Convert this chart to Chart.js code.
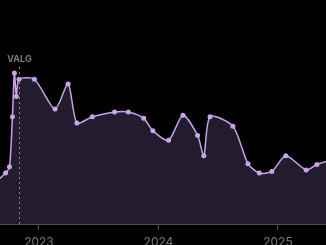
<!DOCTYPE html>
<html>
<head>
<meta charset="utf-8">
<script src="https://cdn.jsdelivr.net/npm/chart.js@4.4.1/dist/chart.umd.min.js"></script>
<style>
  html, body { margin: 0; padding: 0; background: #000; overflow: hidden; }
  #wrap { width: 326px; height: 256px; }
</style>
</head>
<body>
<div id="wrap"><canvas id="chart" width="326" height="256"></canvas></div>
<script>
// Poll dates and share (%)
const pollDates = [
  "2022-08-05", "2022-09-21", "2022-10-03", "2022-10-12", "2022-10-18",
  "2022-10-24", "2022-11-01", "2022-12-18", "2023-02-19", "2023-03-31",
  "2023-04-27", "2023-06-13", "2023-08-20", "2023-10-01", "2023-11-17",
  "2023-12-15", "2024-02-01", "2024-03-16", "2024-04-30", "2024-05-19",
  "2024-06-07", "2024-08-16", "2024-10-01", "2024-11-05", "2024-12-13",
  "2025-01-25", "2025-03-28", "2025-04-30", "2025-06-23"
];
const pollValues = [
  2.4, 3.3, 3.7, 6.9, 9.7,
  8.2, 9.3, 9.3, 7.4, 9.0,
  6.5, 6.9, 7.2, 7.2, 6.8,
  6.0, 5.4, 7.0, 5.7, 4.4,
  6.9, 6.3, 3.9, 3.3, 3.4,
  4.4, 3.5, 3.85, 4.2
];
const yearTicks = [2023, 2024, 2025];
const electionDate = "2022-11-01";
const electionLabel = "VALG";

// date string -> decimal year
function toYear(iso) {
  const [y, m, d] = iso.split("-").map(Number);
  const start = Date.UTC(y, 0, 1);
  const end = Date.UTC(y + 1, 0, 1);
  return y + (Date.UTC(y, m - 1, d) - start) / (end - start);
}

const points = pollDates.map((d, i) => ({ x: toYear(d), y: pollValues[i] }));

// dashed election marker with label
const electionLine = {
  id: "electionLine",
  afterDatasetsDraw(chart) {
    const { ctx, chartArea, scales } = chart;
    const x = Math.round(scales.x.getPixelForValue(toYear(electionDate))) + 0.5;
    ctx.save();
    ctx.strokeStyle = "#8a8a8a";
    ctx.lineWidth = 1;
    ctx.setLineDash([2, 3]);
    ctx.beginPath();
    ctx.moveTo(x, 67);
    ctx.lineTo(x, chartArea.bottom);
    ctx.stroke();
    ctx.fillStyle = "#7c7c7c";
    ctx.font = "bold 9px Inter";
    ctx.textAlign = "center";
    ctx.textBaseline = "middle";
    ctx.fillText(electionLabel, x, 59);
    ctx.restore();
  }
};

new Chart(document.getElementById("chart"), {
  type: "line",
  data: {
    datasets: [{
      data: points,
      borderColor: "#c9a4e8",
      borderWidth: 1.5,
      pointRadius: 2.5,
      pointBackgroundColor: "#c9a4e8",
      pointBorderWidth: 0,
      tension: 0.25,
      fill: "start",
      backgroundColor: "#231c2e"
    }]
  },
  options: {
    responsive: false,
    devicePixelRatio: 1,
    animation: false,
    layout: { padding: 0, autoPadding: false },
    plugins: { legend: { display: false }, tooltip: { enabled: false } },
    scales: {
      x: {
        type: "linear",
        min: 2022.674,
        max: 2025.402,
        afterBuildTicks: scale => { scale.ticks = yearTicks.map(v => ({ value: v })); },
        grid: { drawOnChartArea: false, tickLength: 5, color: "#555" },
        border: { color: "#555" },
        ticks: {
          color: "#7a7a7a",
          padding: 6,
          font: { family: "Inter", size: 12 },
          callback: v => String(v)
        }
      },
      y: { display: false, min: 0, max: 14.37 }
    }
  },
  plugins: [electionLine]
});
</script>
</body>
</html>
